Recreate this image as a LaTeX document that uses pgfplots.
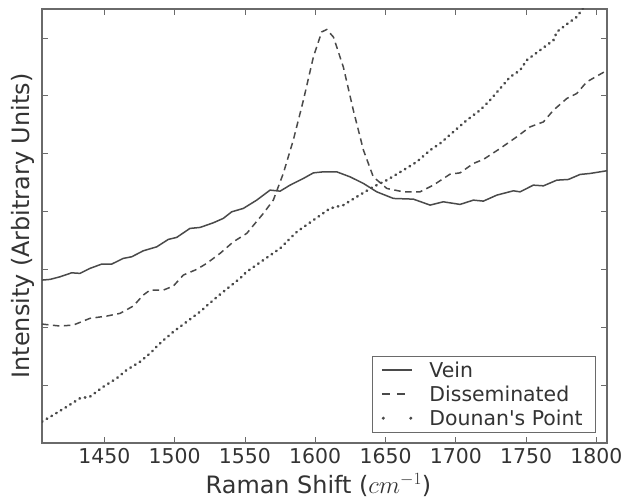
\documentclass[border=0pt]{standalone}
\usepackage{fontspec}
\setmainfont{DejaVu Sans}
\newfontfamily\dvplain{DejaVu Sans}
\usepackage{pgfplots}
\pgfplotsset{compat=1.18}
\definecolor{lc}{HTML}{4A4A4A}
\definecolor{fc}{HTML}{6A6A6A}
\definecolor{tc}{HTML}{333333}
\begin{document}
\begin{tikzpicture}
\begin{axis}[
  scale only axis, width=565bp, height=434bp,
  xmin=1405.7, xmax=1807.5, ymin=0, ymax=7.5,
  xtick={1450,1500,...,1800}, ytick={0,1,...,7}, yticklabels={},
  /pgf/number format/assume math mode=true,
  /pgf/number format/1000 sep={},
  tick align=inside, major tick length=6bp,
  tick style={fc, line width=0.8bp},
  axis line style={fc, line width=1.2bp},
  every tick label/.append style={font=\fontsize{20.5}{24}\selectfont, text=tc, inner sep=0.5bp},
  xticklabel style={anchor=base, yshift=-20.5bp},
  label style={font=\fontsize{24}{28}\selectfont, text=tc, inner sep=0.5bp},
  xlabel={Raman Shift ($cm^{-1}$)},
  ylabel={Intensity (Arbitrary Units)},
  xlabel style={at={(axis description cs:0.5,0)}, anchor=base, yshift=-50.5bp, xshift=-6bp},
  ylabel style={at={(axis description cs:-0.012,0.5)}, anchor=south, rotate=0},
  legend cell align=left,
  legend style={at={(axis description cs:0.9805,0.0237)}, anchor=south east,
    draw=fc, line width=1bp, text=tc, font=\fontsize{20.5}{24}\selectfont,
    inner xsep=9bp, inner ysep=2bp, row sep=0bp,
    nodes={inner xsep=4bp, inner ysep=3.5bp}},
]
\addplot[lc, line width=1.5bp,
  legend image code/.code={\path[draw=none,fill=none] (0bp,-5bp) rectangle (43.7bp,5bp); \draw[lc, solid, line width=1.5bp] (0bp,0bp) -- (30bp,0bp);}]
 coordinates {
(1405.7,2.815)(1411.4,2.827)(1418.5,2.872)(1426.8,2.941)(1432.7,2.931)(1439.8,3.017)
(1448.2,3.092)(1455.3,3.092)(1463.5,3.190)(1469.5,3.218)(1477.7,3.321)(1487.3,3.390)
(1495.5,3.518)(1501.5,3.553)(1510.9,3.708)(1518.1,3.725)(1527.5,3.805)(1534.6,3.881)
(1540.6,3.995)(1548.9,4.054)(1558.4,4.197)(1567.9,4.370)(1575.0,4.352)(1582.1,4.456)
(1591.6,4.572)(1598.7,4.668)(1605.8,4.686)(1615.3,4.686)(1624.8,4.599)(1634.3,4.485)
(1643.8,4.340)(1655.6,4.226)(1669.8,4.214)(1681.7,4.111)(1691.1,4.168)(1703.0,4.123)
(1712.5,4.197)(1719.6,4.180)(1729.1,4.283)(1740.9,4.358)(1745.7,4.340)(1755.1,4.456)
(1762.3,4.444)(1771.8,4.542)(1780.0,4.554)(1788.4,4.641)(1795.5,4.658)(1807.5,4.705)
};
\addlegendentry{Vein}
\addplot[lc, line width=1.5bp, dash pattern=on 6.5bp off 4.5bp,
  legend image code/.code={\path[draw=none,fill=none] (0bp,-5bp) rectangle (43.7bp,5bp); \draw[lc, solid, line width=1.5bp] (0bp,0bp) -- (8bp,0bp) (15bp,0bp) -- (23bp,0bp);}]
 coordinates {
(1405.7,2.055)(1418.5,2.021)(1428.0,2.038)(1439.8,2.154)(1451.7,2.193)(1461.2,2.240)
(1470.6,2.366)(1477.7,2.556)(1482.5,2.642)(1492.0,2.642)(1499.1,2.712)(1506.2,2.902)
(1515.7,3.000)(1522.8,3.104)(1532.3,3.276)(1541.8,3.477)(1551.3,3.622)(1563.1,3.967)
(1570.2,4.197)(1577.3,4.658)(1584.4,5.233)(1591.6,5.924)(1598.7,6.672)(1604.6,7.104)
(1608.2,7.145)(1612.9,7.017)(1620.0,6.499)(1627.1,5.751)(1634.3,5.060)(1641.3,4.599)
(1650.9,4.399)(1662.7,4.340)(1674.5,4.340)(1684.0,4.456)(1695.9,4.646)(1703.0,4.668)
(1712.5,4.831)(1719.6,4.900)(1731.5,5.090)(1743.3,5.290)(1752.8,5.463)(1762.3,5.549)
(1769.4,5.751)(1778.9,5.953)(1786.0,6.040)(1793.1,6.240)(1807.5,6.440)
};
\addlegendentry{Disseminated}
\addplot[lc, line width=2.6bp, line cap=round, dash pattern=on 0.6bp off 4.9bp,
  legend image code/.code={\path[draw=none,fill=none] (0bp,-5bp) rectangle (43.7bp,5bp); \fill[lc, draw=none] (1.5bp,0bp) circle (1.7bp); \fill[lc, draw=none] (29bp,0bp) circle (1.7bp);}]
 coordinates {
(1405.7,0.368)(1413.7,0.484)(1423.3,0.627)(1432.7,0.772)(1439.8,0.800)(1449.3,0.972)
(1458.8,1.117)(1465.9,1.261)(1475.4,1.404)(1482.5,1.549)(1489.6,1.722)(1499.1,1.922)
(1508.6,2.095)(1518.1,2.268)(1527.5,2.470)(1534.6,2.613)(1546.5,2.845)(1551.3,2.959)
(1563.1,3.161)(1575.0,3.363)(1586.9,3.649)(1598.7,3.851)(1610.5,4.054)(1620.0,4.111)
(1629.5,4.254)(1641.3,4.427)(1650.9,4.542)(1662.7,4.715)(1672.2,4.858)(1681.7,5.060)
(1688.8,5.176)(1698.2,5.376)(1707.8,5.579)(1717.2,5.751)(1724.3,5.924)(1731.5,6.126)
(1738.6,6.326)(1745.7,6.442)(1750.4,6.615)(1759.9,6.788)(1769.4,6.960)(1771.8,7.104)
(1778.9,7.237)(1786.0,7.363)(1790.5,7.513)(1795.0,7.62)
};
\addlegendentry{{\dvplain Dounan's Point}}
\end{axis}
\pgfresetboundingbox
\path[use as bounding box] ([xshift=-42bp,yshift=-55bp]current axis.south west) rectangle ([xshift=28bp,yshift=9bp]current axis.north east);
\end{tikzpicture}
\end{document}
